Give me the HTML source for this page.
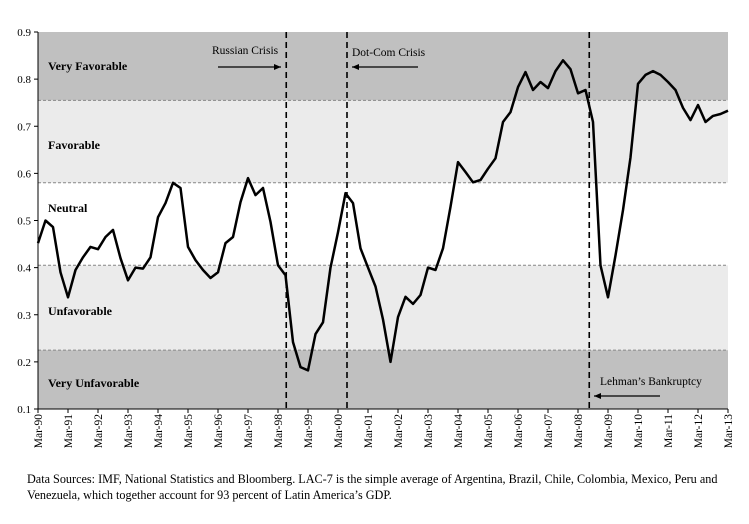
<!DOCTYPE html>
<html><head><meta charset="utf-8"><style>
body{margin:0;background:#fff;font-family:"Liberation Serif",serif;}
svg text{font-family:"Liberation Serif",serif;}
</style></head><body>
<svg id="chart" width="749" height="519">
<g id="bands"></g><g id="grid"></g><g id="axes"></g><g id="series"></g><g id="annot"></g>
<text x="27" y="483" font-size="12.2">Data Sources: IMF, National Statistics and Bloomberg. LAC-7 is the simple average of Argentina, Brazil, Chile, Colombia, Mexico, Peru and</text>
<text x="27" y="499" font-size="12.2">Venezuela, which together account for 93 percent of Latin America’s GDP.</text>
</svg>
<script>
const yTicks=[0.1,0.2,0.3,0.4,0.5,0.6,0.7,0.8,0.9];
const xLabels=["Mar-90","Mar-91","Mar-92","Mar-93","Mar-94","Mar-95","Mar-96","Mar-97","Mar-98","Mar-99","Mar-00","Mar-01","Mar-02","Mar-03","Mar-04","Mar-05","Mar-06","Mar-07","Mar-08","Mar-09","Mar-10","Mar-11","Mar-12","Mar-13"];
const bandNames=["Very Unfavorable","Unfavorable","Neutral","Favorable","Very Favorable"];
const bandEdges=[0.1,0.225,0.405,0.58,0.755,0.9];
const crisisNames=["Russian Crisis","Dot-Com Crisis","Lehman’s Bankruptcy"];
const crisisQuarters=[33.1,41.2,73.5];
const values=[0.452,0.50,0.486,0.39,0.337,0.395,0.422,0.444,0.439,0.465,0.48,0.42,0.373,0.40,0.398,0.422,0.507,0.537,0.58,0.569,0.444,0.416,0.395,0.378,0.39,0.452,0.465,0.539,0.59,0.554,0.569,0.497,0.405,0.384,0.242,0.189,0.182,0.259,0.284,0.40,0.475,0.558,0.537,0.441,0.40,0.36,0.29,0.20,0.295,0.338,0.323,0.342,0.40,0.395,0.441,0.529,0.624,0.603,0.581,0.586,0.61,0.632,0.709,0.73,0.783,0.815,0.777,0.794,0.781,0.817,0.84,0.821,0.77,0.777,0.709,0.405,0.337,0.426,0.522,0.634,0.79,0.809,0.817,0.809,0.794,0.777,0.739,0.713,0.745,0.709,0.722,0.726,0.733];
const NS="http://www.w3.org/2000/svg";
const X0=38,X1=728,Y0=32,Y1=409;
const nQ=(xLabels.length-1)*4;
const xs=q=>X0+(X1-X0)*q/nQ;
const ys=v=>Y1-(v-0.1)/(0.8)*(Y1-Y0);
function mk(p,tag,at,txt){const e=document.createElementNS(NS,tag);for(const k in at)e.setAttribute(k,at[k]);if(txt!=null)e.textContent=txt;document.getElementById(p).appendChild(e);return e;}
bandNames.forEach((n,i)=>{
 const dark=(i===0||i===4);
 const r=mk('bands','rect',{x:X0,y:ys(bandEdges[i+1]),width:X1-X0,height:ys(bandEdges[i])-ys(bandEdges[i+1]),fill:dark?'#c0c0c0':(i===2?'#ffffff':'#ebebeb')});
 
 
 const ty=[387,315,212,149,70][i];
 const t=mk('annot','text',{x:48,y:ty,'font-size':12,'font-weight':'bold'},n);
 
 
});
bandEdges.slice(1,5).forEach(v=>{
 const l=mk('grid','line',{x1:X0,x2:X1,y1:ys(v),y2:ys(v),stroke:'#888','stroke-width':1,'stroke-dasharray':'3,2'});
 
 
});
mk('axes','line',{x1:X0,x2:X0,y1:Y0,y2:Y1,stroke:'#000'});
mk('axes','line',{x1:X0,x2:X1,y1:Y1,y2:Y1,stroke:'#000'});
yTicks.forEach(v=>{
 mk('axes','line',{x1:X0-4,x2:X0,y1:ys(v),y2:ys(v),stroke:'#000'});
 const t=mk('axes','text',{x:X0-7,y:ys(v)+4,'font-size':11,'text-anchor':'end'},v.toFixed(1));
 
 
});
xLabels.forEach((s,i)=>{
 const x=xs(i*4);
 mk('axes','line',{x1:x,x2:x,y1:Y1,y2:Y1+4,stroke:'#000'});
 const t=mk('axes','text',{x:0,y:0,'font-size':11.5,'text-anchor':'end',transform:`translate(${x+4},${Y1+5}) rotate(-90)`},s);
 
 
});
const path=mk('series','path',{d:values.map((v,i)=>(i?'L':'M')+xs(i).toFixed(1)+','+ys(v).toFixed(1)).join(''),fill:'none',stroke:'#000','stroke-width':2.5,'stroke-linejoin':'round'});


crisisQuarters.forEach((q,i)=>{
 const l=mk('annot','line',{x1:xs(q),x2:xs(q),y1:Y0,y2:Y1,stroke:'#000','stroke-width':1.6,'stroke-dasharray':'6,4'});
 
 
});
const lab=[[212,54,218,281,67],[352,56,418,352,67],[600,385,660,594,396]];
crisisNames.forEach((n,i)=>{
 const [tx,ty,ax1,ax2,ay]=lab[i];
 const t=mk('annot','text',{x:tx,y:ty,'font-size':11.5},n);
 
 
 mk('annot','line',{x1:ax1,x2:ax2,y1:ay,y2:ay,stroke:'#000','stroke-width':1.2});
 const d=ax2>ax1?1:-1;
 const a=mk('annot','path',{d:`M${ax2},${ay}L${ax2-7*d},${ay-3}L${ax2-7*d},${ay+3}Z`,fill:'#000'});
 
 
});
</script>
</body></html>
